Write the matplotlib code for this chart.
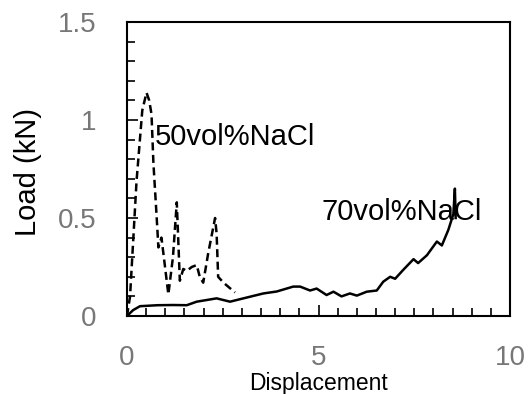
import numpy as np
import matplotlib.pyplot as plt
from matplotlib.ticker import MultipleLocator

plt.rcParams['font.family'] = ['Liberation Sans', 'DejaVu Sans']

# 50vol%NaCl (dashed)
x50 = [0.0, 0.08, 0.25, 0.40, 0.51, 0.58, 0.64, 0.69, 0.77, 0.82, 0.90, 0.95, 1.08,
       1.20, 1.30, 1.38, 1.47, 1.56, 1.69, 1.82, 1.90, 1.99, 2.12, 2.30, 2.34, 2.38,
       2.52, 2.82]
y50 = [0.0, 0.10, 0.69, 1.05, 1.14, 1.10, 1.03, 0.78, 0.52, 0.35, 0.40, 0.32, 0.11,
       0.30, 0.58, 0.18, 0.24, 0.23, 0.25, 0.26, 0.20, 0.17, 0.32, 0.50, 0.42, 0.20,
       0.17, 0.12]

# 70vol%NaCl (solid)
x70 = [0.0, 0.16, 0.34, 0.8, 1.2, 1.56, 1.82, 2.34, 2.69, 3.04, 3.56, 3.91, 4.34,
       4.52, 4.78, 4.95, 5.21, 5.39, 5.60, 5.82, 6.00, 6.26, 6.52, 6.69, 6.87, 7.00,
       7.21, 7.48, 7.60, 7.83, 8.09, 8.22, 8.39, 8.52, 8.56, 8.58]
y70 = [0.0, 0.03, 0.05, 0.055, 0.056, 0.055, 0.073, 0.09, 0.073, 0.09, 0.115, 0.125, 0.15,
       0.15, 0.13, 0.14, 0.107, 0.124, 0.10, 0.115, 0.104, 0.124, 0.13, 0.175, 0.20, 0.19,
       0.235, 0.29, 0.27, 0.31, 0.38, 0.36, 0.44, 0.52, 0.65, 0.50]

fig = plt.figure(figsize=(5.28, 3.94), dpi=100)
ax = fig.add_axes([0.2405, 0.198, 0.7255, 0.746])

ax.plot(x50, y50, color='black', lw=1.8, linestyle=(0, (3.2, 1.8)))
ax.plot(x70, y70, color='black', lw=1.8)

ax.set_xlim(0, 10)
ax.set_ylim(0, 1.5)
ax.set_xticks([0, 5, 10])
ax.set_yticks([0, 0.5, 1, 1.5])
ax.set_yticklabels(['0', '0.5', '1', '1.5'])
ax.xaxis.set_minor_locator(MultipleLocator(0.5))
ax.yaxis.set_minor_locator(MultipleLocator(0.1))
ax.tick_params(which='both', direction='in', colors='black', labelcolor='#777777',
               labelsize=20, width=1.2)
ax.tick_params(which='major', length=8)
ax.tick_params(which='minor', length=6)
ax.tick_params(axis='x', which='major', pad=21)
ax.tick_params(axis='y', which='major', pad=22)
for s in ax.spines.values():
    s.set_linewidth(1.5)

ax.set_xlabel('Displacement', fontsize=16.5)
ax.xaxis.set_label_coords(0.5, -0.19)
ax.set_ylabel('Load (kN)', fontsize=21)
ax.yaxis.set_label_coords(-0.222, 0.49)

ax.text(0.73, 0.872, '50vol%NaCl', fontsize=21, va='baseline', ha='left')
ax.text(5.09, 0.49, '70vol%NaCl', fontsize=21, va='baseline', ha='left')

fig.savefig('out.png', dpi=100)
